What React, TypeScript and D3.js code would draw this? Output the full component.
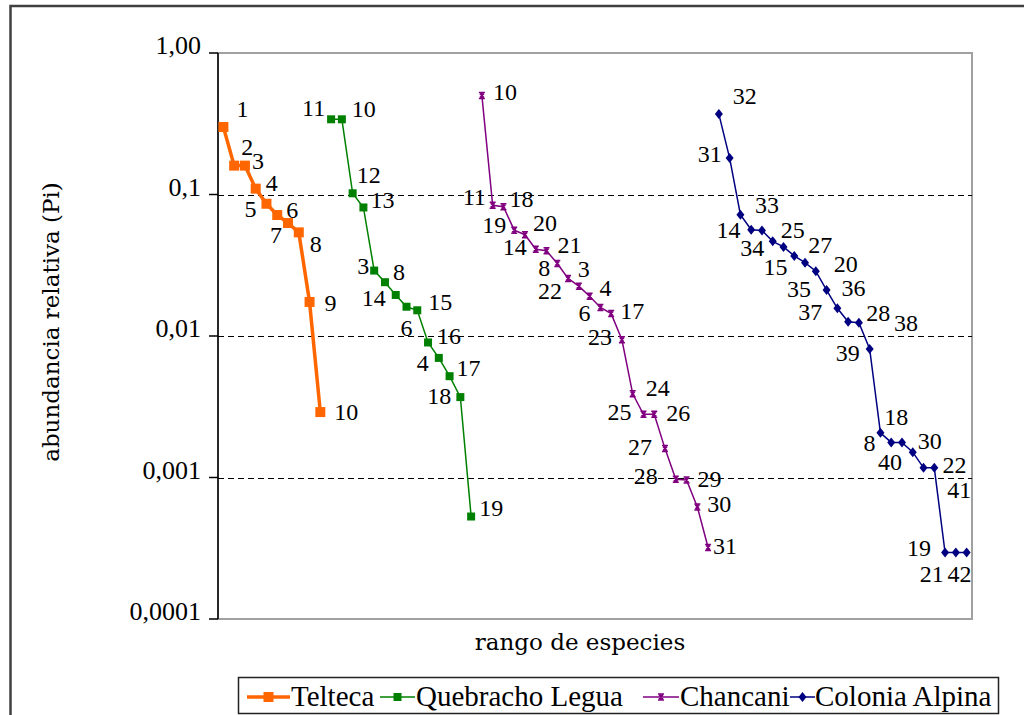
import React from "react";
import * as d3 from "d3";

// ---- data ----
const teltecaIds = ["1", "2", "3", "4", "5", "6", "7", "8", "9", "10"];
const teltecaPi = [0.3, 0.16, 0.16, 0.11, 0.086, 0.0716, 0.0629, 0.054, 0.0174, 0.0029];

const quebrachoIds = ["11", "10", "12", "13", "3", "8", "14", "6", "15", "16", "4", "17", "18", "19"];
const quebrachoPi = [0.34, 0.34, 0.102, 0.081, 0.029, 0.024, 0.0195, 0.0161, 0.0152, 0.009, 0.007, 0.0052, 0.0037, 0.00053];

const chancaniIds = ["10", "11", "18", "19", "20", "14", "21", "8", "22", "3", "4", "6", "17", "23", "24", "25", "26", "27", "28", "29", "30", "31"];
const chancaniPi = [0.5, 0.084, 0.082, 0.056, 0.052, 0.041, 0.04, 0.0325, 0.0255, 0.0225, 0.0191, 0.0159, 0.0144, 0.0094, 0.0039, 0.0028, 0.0028, 0.0016, 0.00097, 0.00096, 0.00062, 0.00032];

const alpinaIds = ["32", "31", "14", "34", "33", "25", "15", "27", "35", "20", "36", "37", "28", "38", "39", "8", "18", "40", "30", "22", "41", "19", "21", "42"];
const alpinaPi = [0.37, 0.181, 0.072, 0.0564, 0.0557, 0.0467, 0.0426, 0.0368, 0.033, 0.0287, 0.0211, 0.0157, 0.0126, 0.0124, 0.0081, 0.00207, 0.00177, 0.00177, 0.00151, 0.00117, 0.00117, 0.000295, 0.000295, 0.000295];

const seriesNames = ["Telteca", "Quebracho Legua", "Chancani", "Colonia Alpina"];
const yTickValues = [1, 0.1, 0.01, 0.001, 0.0001];
const yTickLabels = ["1,00", "0,1", "0,01", "0,001", "0,0001"];
const gridValues = [0.1, 0.01, 0.001];

// ---- layout (label offsets relative to point: left edge, vertical centre) ----
const teltecaLab = [[13, -18], [7, -19], [7, -5], [10, -6], [-22, 5], [9, -5], [-18, 12], [11, 12], [15, 1], [14, 0]];
const quebrachoLab = [[-29, -11], [10, -10], [4, -18], [7, -7], [-17, -5], [8, -10], [-34, 3], [-6, 21], [11, -8], [9, -6], [-22, 5], [7, -8], [-33, -1], [8, -9]];
const chancaniLab = [[11, -4], [-30, -8], [6, -8], [-32, -5], [8, -12], [-33, -2], [11, -6], [-19, 4], [-30, 13], [-1, -17], [10, -8], [-22, 5], [9, -3], [-34, -3], [13, -6], [-36, -2], [12, -1], [-37, -2], [-42, -3], [11, -1], [10, -3], [5, -2]];
const alpinaLab = [[14, -18], [-32, -4], [-24, 15], [-11, 18], [-7, -25], [8, -11], [-20, 20], [14, -11], [-18, 26], [18, -7], [15, -2], [-39, 4], [18, -9], [35, 0], [-34, 4], [-17, 10], [-7, -25], [-24, 20], [5, -11], [19, -3], [13, 22], [-38, -5], [-36, 21], [-19, 21]];

const W = 1024, H = 715;
const plot = { left: 218, right: 972, top: 53, bottom: 619 };

type Marker = "square" | "star" | "diamond";

function markerPath(kind: Marker, size: number): string {
  const s = size / 2;
  if (kind === "diamond") return `M0,${-s - 1}L${s},0L0,${s + 1}L${-s},0Z`;
  if (kind === "star") return `M${-s},${-s}H${s}M${-s},${s}H${s}M0,${-s}V${s}M${-s + 1},${-s + 1}L${s - 1},${s - 1}M${s - 1},${-s + 1}L${-s + 1},${s - 1}`;
  return `M${-s},${-s}H${s}V${s}H${-s}Z`;
}

export default function App() {
  const all = [
    { ids: teltecaIds, pi: teltecaPi, lab: teltecaLab, color: "#FF6600", lw: 3.5, marker: "square" as Marker, ms: 10 },
    { ids: quebrachoIds, pi: quebrachoPi, lab: quebrachoLab, color: "#008000", lw: 1.5, marker: "square" as Marker, ms: 8 },
    { ids: chancaniIds, pi: chancaniPi, lab: chancaniLab, color: "#800080", lw: 1.5, marker: "star" as Marker, ms: 6 },
    { ids: alpinaIds, pi: alpinaPi, lab: alpinaLab, color: "#000080", lw: 1.5, marker: "diamond" as Marker, ms: 8 },
  ];
  const total = all.reduce((a, s) => a + s.pi.length, 0);
  const x = d3.scalePoint<number>().domain(d3.range(total)).range([plot.left, plot.right]).padding(0.5);
  const y = d3.scaleLog().domain([0.0001, 1]).range([plot.bottom, plot.top]);

  let offset = 0;
  const series = all.map((s) => {
    const pts = s.pi.map((v, i) => ({ x: x(offset + i) as number, y: y(v), id: s.ids[i], lab: s.lab[i] }));
    offset += s.pi.length;
    return { ...s, pts };
  });
  const line = d3.line<{ x: number; y: number }>().x((d) => d.x).y((d) => d.y);

  const serif = "'Liberation Serif', 'Times New Roman', serif";
  const titleFont = "'DejaVu Serif', serif";

  const legendItems = [
    { x0: 247, x1: 290, tx: 291 },
    { x0: 380, x1: 415, tx: 416 },
    { x0: 643, x1: 679, tx: 680 },
    { x0: 790, x1: 815, tx: 815 },
  ];
  const legY = 697;

  return (
    <svg width={W} height={H} style={{ position: "absolute", left: 0, top: 0, background: "#fff" }}>
      <rect x={0} y={0} width={W} height={H} fill="#fff" />
      {/* outer frame */}
      <rect x={10.5} y={6} width={1040} height={740} fill="none" stroke="#404040" strokeWidth={2.5} />
      {/* plot area border */}
      <rect x={plot.left} y={plot.top} width={plot.right - plot.left} height={plot.bottom - plot.top} fill="none" stroke="#a0a0a0" strokeWidth={2} />
      {/* gridlines */}
      {gridValues.map((g, i) => (
        <line key={i} x1={plot.left} x2={plot.right} y1={Math.round(y(g)) + 0.5} y2={Math.round(y(g)) + 0.5} stroke="#000" strokeWidth={1.2} strokeDasharray="6,4" />
      ))}
      {/* y axis */}
      <line x1={plot.left} x2={plot.left} y1={plot.top} y2={plot.bottom} stroke="#000" strokeWidth={1.5} />
      {yTickValues.map((v, i) => (
        <g key={i}>
          <line x1={plot.left - 9} x2={plot.left} y1={y(v)} y2={y(v)} stroke="#000" strokeWidth={1.5} />
          <text x={201} y={y(v) + 1} textAnchor="end" fontFamily={serif} fontSize={26} fill="#000">
            {yTickLabels[i]}
          </text>
        </g>
      ))}
      {/* series */}
      {series.map((s, si) => (
        <g key={si}>
          <path d={line(s.pts) || ""} fill="none" stroke={s.color} strokeWidth={s.lw} />
          {s.pts.map((p, i) => (
            <path
              key={i}
              transform={`translate(${p.x},${p.y})`}
              d={markerPath(s.marker, s.ms)}
              fill={s.marker === "star" ? "none" : s.color}
              stroke={s.color}
              strokeWidth={s.marker === "star" ? 1.5 : 0}
            />
          ))}
          {s.pts.map((p, i) => (
            <text key={"t" + i} x={p.x + p.lab[0]} y={p.y + p.lab[1]} dominantBaseline="central" fontFamily={serif} fontSize={24} fill="#000">
              {p.id}
            </text>
          ))}
        </g>
      ))}
      {/* axis titles */}
      <text x={580} y={650} textAnchor="middle" fontFamily={titleFont} fontSize={23} fill="#000">
        rango de especies
      </text>
      <text transform="translate(51,322) rotate(-90)" textAnchor="middle" dominantBaseline="central" fontFamily={titleFont} fontSize={23} fill="#000">
        abundancia relativa (Pi)
      </text>
      {/* legend */}
      <rect x={238.5} y={677.5} width={760} height={36} fill="#fff" stroke="#222" strokeWidth={1.5} />
      {series.map((s, i) => {
        const it = legendItems[i];
        const cx = (it.x0 + it.x1) / 2;
        return (
          <g key={"l" + i}>
            <line x1={it.x0} x2={it.x1} y1={legY} y2={legY} stroke={s.color} strokeWidth={s.lw} />
            <path transform={`translate(${cx},${legY})`} d={markerPath(s.marker, s.ms)} fill={s.marker === "star" ? "none" : s.color} stroke={s.color} strokeWidth={s.marker === "star" ? 1.5 : 0} />
            <text x={it.tx} y={706} fontFamily={serif} fontSize={29} fill="#000">
              {seriesNames[i]}
            </text>
          </g>
        );
      })}
    </svg>
  );
}
